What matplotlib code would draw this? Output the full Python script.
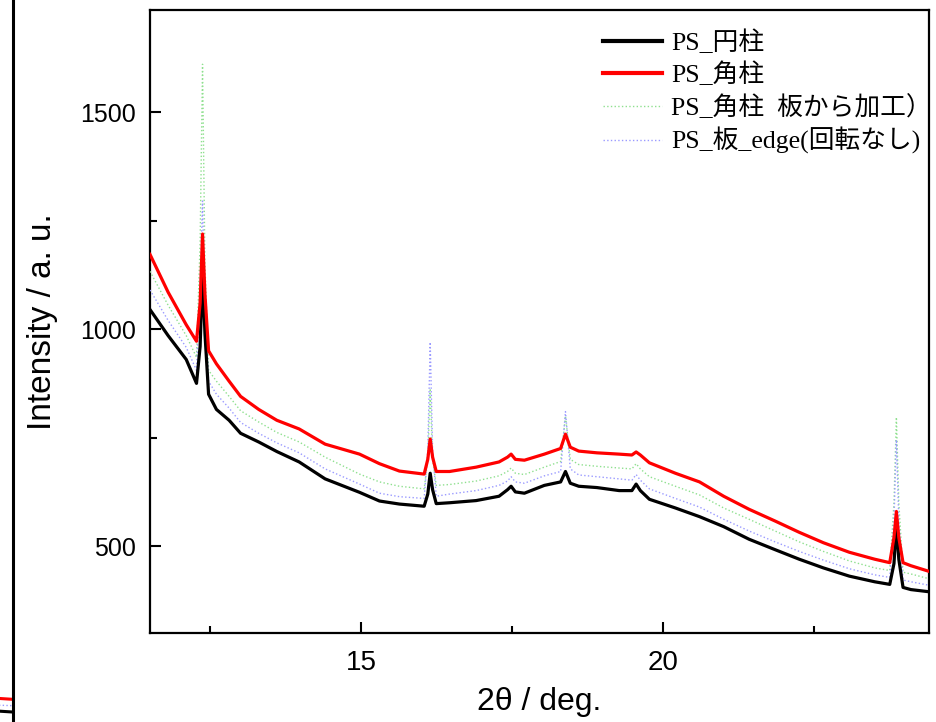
import matplotlib
matplotlib.use("Agg")
import matplotlib.pyplot as plt
from matplotlib.ticker import MultipleLocator
from matplotlib.font_manager import FontProperties, fontManager

names = {f.name for f in fontManager.ttflist}
narrow = 'Liberation Sans Narrow' if 'Liberation Sans Narrow' in names else 'Liberation Sans'

# ---------------- data ----------------
two_theta = [11.50, 11.80, 12.10, 12.27, 12.33, 12.37, 12.41, 12.47, 12.60, 12.81,
             13.00, 13.30, 13.60, 13.97, 14.40, 14.97, 15.30, 15.63, 16.04, 16.10,
             16.14, 16.18, 16.24, 16.46, 16.90, 17.28, 17.42, 17.48, 17.55, 17.70,
             18.03, 18.30, 18.38, 18.46, 18.60, 18.90, 19.27, 19.48, 19.55, 19.62,
             19.77, 20.20, 20.60, 21.00, 21.42, 21.85, 22.25, 22.65, 23.08, 23.50,
             23.75, 23.82, 23.86, 23.90, 23.97, 24.10, 24.40]

ps_cylinder = [1045, 985, 930, 875, 960, 1133, 990, 850, 815, 790,
               760, 740, 718, 694, 655, 624, 604, 597, 592, 620,
               668, 630, 598, 600, 605, 615, 630, 638, 625, 622,
               640, 648, 672, 645, 638, 635, 628, 628, 643, 628,
               608, 588, 568, 545, 516, 492, 470, 450, 431, 418,
               412, 460, 551, 470, 405, 400, 395]

ps_prism = [1172, 1085, 1010, 972, 1060, 1219, 1080, 950, 920, 880,
            845, 815, 790, 770, 735, 712, 690, 673, 666, 700,
            747, 705, 672, 672, 682, 694, 705, 712, 700, 698,
            712, 725, 758, 728, 719, 715, 712, 710, 717, 710,
            692, 668, 648, 615, 585, 558, 532, 508, 486, 470,
            462, 520, 580, 520, 462, 455, 442]

ps_prism_plate = [1133, 1055, 985, 935, 1200, 1610, 1150, 905, 880, 845,
                  812, 786, 762, 740, 705, 666, 648, 638, 632, 700,
                  860, 700, 640, 642, 650, 662, 672, 680, 668, 665,
                  682, 695, 800, 700, 688, 684, 680, 678, 690, 678,
                  660, 638, 618, 588, 562, 535, 510, 488, 466, 450,
                  444, 600, 797, 600, 440, 436, 425]

ps_plate_edge = [1090, 1020, 958, 905, 1100, 1295, 1060, 880, 850, 818,
                 785, 760, 738, 715, 678, 643, 622, 614, 610, 720,
                 970, 720, 615, 620, 628, 640, 650, 660, 648, 645,
                 662, 672, 810, 678, 664, 660, 655, 652, 665, 652,
                 632, 610, 590, 562, 535, 510, 488, 468, 448, 434,
                 428, 560, 745, 560, 422, 418, 410]

labels = ['PS_円柱', 'PS_角柱', 'PS_角柱  板から加工）', 'PS_板_edge(回転なし)']

# sliver of neighbouring panel (left edge of the image)
sliver_x = [0.90, 0.95, 1.00]
sliver_red = [0.078, 0.076, 0.074]
sliver_black = [0.062, 0.060, 0.058]
sliver_blue = [0.068, 0.067, 0.066]

# ---------------- figure ----------------
fig = plt.figure(figsize=(9.37, 7.22), dpi=100)

W, H = 937, 722
axl = fig.add_axes([(13 - 500) / W, -0.05, 500 / W, 1.1])
axl.set_xlim(0, 1)
axl.set_ylim(0, 1)
axl.plot(sliver_x, sliver_blue, color='#9a9aff', lw=1, ls=':')
axl.plot(sliver_x, sliver_red, color='red', lw=2.2)
axl.plot(sliver_x, sliver_black, color='black', lw=2.2)
for s in ['left', 'top', 'bottom']:
    axl.spines[s].set_visible(False)
axl.spines['right'].set_linewidth(2.2)
axl.set_xticks([])
axl.set_yticks([])

ax = fig.add_axes([150 / W, 1 - 633 / H, (929 - 150) / W, (633 - 10) / H])
l1, = ax.plot(two_theta, ps_cylinder, color='black', lw=2.3, zorder=4)
l2, = ax.plot(two_theta, ps_prism, color='red', lw=2.3, zorder=5)
l3, = ax.plot(two_theta, ps_prism_plate, color='#8fe08f', lw=1.0, ls=':', zorder=3)
l4, = ax.plot(two_theta, ps_plate_edge, color='#9a9aff', lw=1.0, ls=':', zorder=3)

ax.set_xlim(11.5, 24.4)
ax.set_ylim(300, 1735)
ax.xaxis.set_major_locator(MultipleLocator(5))
ax.xaxis.set_minor_locator(MultipleLocator(2.5))
ax.yaxis.set_major_locator(MultipleLocator(500))
ax.yaxis.set_minor_locator(MultipleLocator(250))
ax.tick_params(which='both', direction='in', top=False, right=False, width=1.5)
ax.tick_params(which='major', length=8)
ax.tick_params(which='minor', length=5)
ax.tick_params(axis='x', which='major', pad=12)
ax.tick_params(axis='y', which='major', pad=10)
for s in ax.spines.values():
    s.set_linewidth(1.6)

for t in ax.get_xticklabels():
    t.set_fontfamily(narrow)
    t.set_fontsize(20)
for t in ax.get_yticklabels():
    t.set_fontfamily('Liberation Sans')
    t.set_fontsize(18)

ax.set_xlabel('2θ / deg.', fontsize=23, family=narrow, labelpad=8)
ax.set_ylabel('Intensity / a. u.', fontsize=24, family='Liberation Sans', labelpad=16)

leg_font = FontProperties(family=['Liberation Serif', 'Noto Sans CJK JP'], size=18.5)
leg = ax.legend([l1, l2, l3, l4], labels, prop=leg_font, frameon=False,
                loc='upper left', bbox_to_anchor=((603 - 150) / 779, 0.968),
                borderaxespad=0, borderpad=0, handlelength=2.3, handletextpad=0.35,
                labelspacing=0.3)
for h in leg.get_lines()[:2]:
    h.set_linewidth(3)

fig.savefig('out.png', dpi=100)
